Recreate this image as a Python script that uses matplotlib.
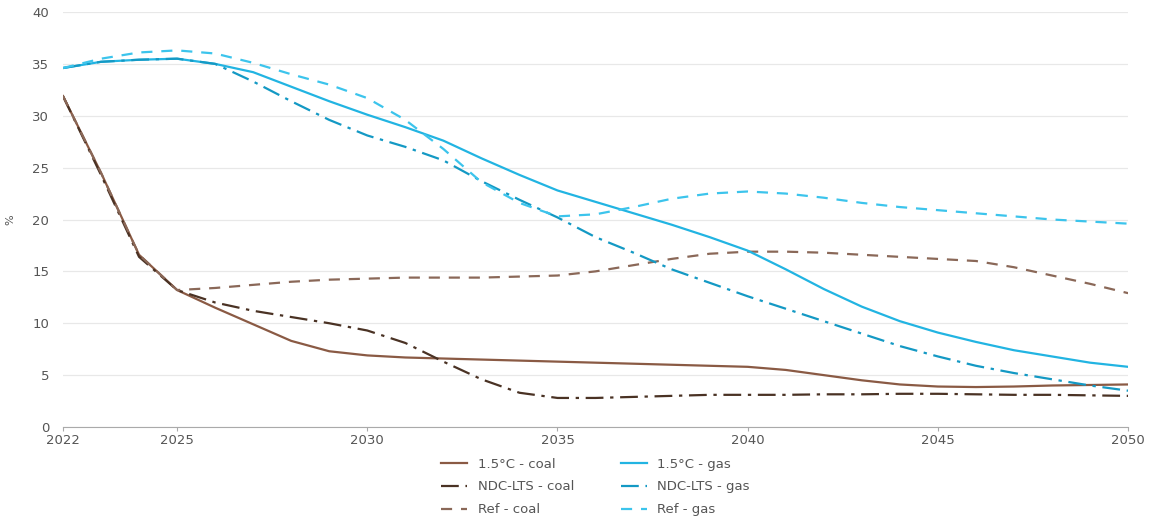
import matplotlib
matplotlib.use("Agg")
import matplotlib.pyplot as plt

years = list(range(2022, 2051))

coal_15 = [31.9, 24.5, 16.6, 13.2, 11.5, 9.9, 8.3, 7.3, 6.9, 6.7, 6.6, 6.5, 6.4, 6.3,
           6.2, 6.1, 6.0, 5.9, 5.8, 5.5, 5.0, 4.5, 4.1, 3.9, 3.85, 3.9, 4.0, 4.05, 4.1]
coal_ndc = [31.9, 24.3, 16.4, 13.2, 12.0, 11.2, 10.6, 10.0, 9.3, 8.1, 6.3, 4.6, 3.3, 2.8,
            2.8, 2.9, 3.0, 3.1, 3.1, 3.1, 3.15, 3.15, 3.2, 3.2, 3.15, 3.1, 3.1, 3.05, 3.0]
coal_ref = [31.9, 24.5, 16.6, 13.2, 13.4, 13.7, 14.0, 14.2, 14.3, 14.4, 14.4, 14.4, 14.5, 14.6,
            15.0, 15.6, 16.2, 16.7, 16.9, 16.9, 16.8, 16.6, 16.4, 16.2, 16.0, 15.4, 14.6, 13.8, 12.9]
gas_15 = [34.6, 35.2, 35.4, 35.5, 35.0, 34.2, 32.8, 31.4, 30.1, 28.9, 27.6, 25.9, 24.3, 22.8,
          21.7, 20.6, 19.5, 18.3, 17.0, 15.2, 13.3, 11.6, 10.2, 9.1, 8.2, 7.4, 6.8, 6.2, 5.8]
gas_ndc = [34.6, 35.2, 35.4, 35.5, 35.0, 33.3, 31.4, 29.6, 28.1, 27.0, 25.7, 23.7, 21.9, 20.2,
           18.3, 16.8, 15.2, 13.9, 12.6, 11.4, 10.2, 9.0, 7.8, 6.8, 5.9, 5.2, 4.6, 4.0, 3.5]
gas_ref = [34.6, 35.5, 36.1, 36.3, 36.0, 35.1, 34.0, 33.0, 31.7, 29.6, 26.8, 23.6, 21.6, 20.3,
           20.5, 21.2, 22.0, 22.5, 22.7, 22.5, 22.1, 21.6, 21.2, 20.9, 20.6, 20.3, 20.0, 19.8, 19.6]

labels = ["1.5°C - coal", "NDC-LTS - coal", "Ref - coal",
          "1.5°C - gas", "NDC-LTS - gas", "Ref - gas"]
xticks = [2022, 2025, 2030, 2035, 2040, 2045, 2050]
yticks = [0, 5, 10, 15, 20, 25, 30, 35, 40]

fig = plt.figure(figsize=(11.49, 5.22), dpi=100)
ax = fig.add_axes([0.0548, 0.182, 0.927, 0.795])

coal_c = ["#8a5a44", "#4a3224", "#8a6858"]
gas_c = ["#22b4e2", "#1499c4", "#3cc4ec"]
styles = ["-", (0, (8, 3, 1.5, 3)), (0, (5, 4))]

series = [coal_15, coal_ndc, coal_ref, gas_15, gas_ndc, gas_ref]
colors = coal_c + gas_c
for i, (s, c, lab) in enumerate(zip(series, colors, labels)):
    ax.plot(years, s, color=c, linestyle=styles[i % 3], lw=1.6, label=lab)

ax.set_xlim(2022, 2050)
ax.set_ylim(0, 40)
ax.set_xticks(xticks)
ax.set_yticks(yticks)
ax.grid(axis="y", color="#e8e8e8", lw=0.9)
ax.set_axisbelow(True)
for sp in ["top", "right", "left"]:
    ax.spines[sp].set_visible(False)
ax.spines["bottom"].set_color("#aaaaaa")
ax.tick_params(axis="y", length=0, labelsize=9.5, labelcolor="#555555", pad=10)
ax.tick_params(axis="x", length=3, color="#aaaaaa", labelsize=9.5, labelcolor="#555555", pad=2)
ax.set_ylabel("%", fontsize=8, color="#555555", labelpad=12)

leg = ax.legend(loc="upper center", bbox_to_anchor=(0.5, -0.045), ncol=2, frameon=False,
                fontsize=9.5, handlelength=2.0, columnspacing=3.5, labelspacing=0.75)
for t in leg.get_texts():
    t.set_color("#555555")

fig.savefig("out.png", dpi=100)
